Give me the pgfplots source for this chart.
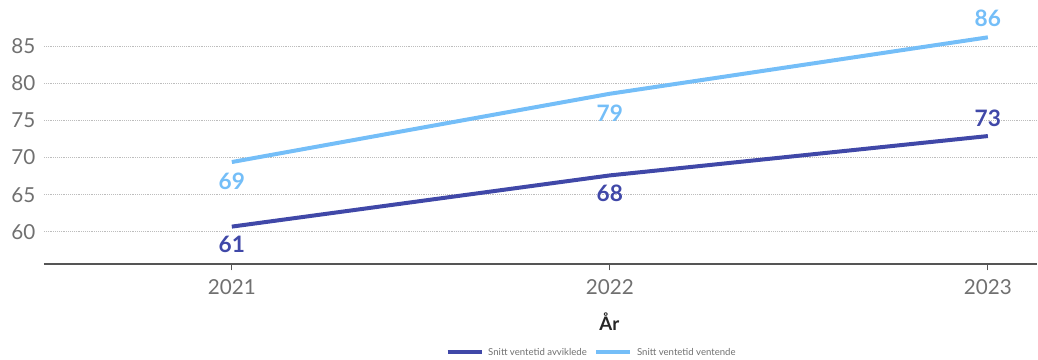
\documentclass[border=0pt]{standalone}
\usepackage{pgfplots}
\pgfplotsset{compat=1.18}
\usepackage{pgfplotstable}
\usepackage{fontspec}
\setmainfont{Lato}

\definecolor{avvikl}{HTML}{4048A8}
\definecolor{vent}{HTML}{74BEF8}
\definecolor{tickgray}{HTML}{707070}
\definecolor{gridgray}{HTML}{BDBDBD}
\definecolor{axisgray}{HTML}{555555}

% year, mean waiting time, label side (+1 above, -1 below)
\pgfplotstableread{
x    y     pos
2021 60.7  -1
2022 67.6  -1
2023 72.9   1
}\avviklede
\pgfplotstableread{
x    y     pos
2021 69.4  -1
2022 78.6  -1
2023 86.2   1
}\ventende

\begin{document}
\begin{tikzpicture}[x=0.75pt,y=0.75pt]
\begin{axis}[
  at={(0,0)}, anchor=south west,
  scale only axis,
  width=745.5pt, height=180pt,
  xmin=2020.503, xmax=2023.13,
  ymin=55.7, ymax=88,
  clip=false,
  axis y line*=left,
  axis x line*=bottom,
  y axis line style={draw=none},
  x axis line style={axisgray, line width=1.5pt, -},
  xtick={2021,2022,2023},
  xticklabels={2021,2022,2023},
  ytick={60,65,70,75,80,85},
  ymajorgrids=true,
  grid style={gridgray, densely dotted, line width=0.8pt},
  major tick length=5pt,
  tick align=outside,
  xtick style={axisgray, line width=0.8pt},
  ytick style={draw=none},
  tick label style={tickgray, font=\fontsize{15.5}{15.5}\selectfont},
  xticklabel style={yshift=-3pt},
  yticklabel style={xshift=2pt},
  /pgf/number format/assume math mode=true,
  /pgf/number format/1000 sep={},
  nodes near coords={\pgfmathprintnumber[fixed,precision=0]{\pgfplotspointmeta}},
  nodes near coords align=center,
  every node near coord/.append style={font=\fontsize{17}{17}\selectfont\bfseries, anchor=center},
]
\addplot[avvikl, line width=3pt, mark=none,
  visualization depends on={\thisrow{pos}\as\pos},
  every node near coord/.append style={avvikl, yshift={\pos*13.5pt}}]
  table[x=x, y=y] {\avviklede};
\addplot[vent, line width=3pt, mark=none,
  visualization depends on={\thisrow{pos}\as\pos},
  every node near coord/.append style={vent, yshift={\pos*14.5pt}}]
  table[x=x, y=y] {\ventende};
\end{axis}

% axis title and legend
\node[font=\fontsize{14}{14}\selectfont\bfseries, text=black!85] at (566,-58) {År};
\draw[avvikl, line width=3pt] (404,-88) -- (438,-88);
\node[anchor=west, font=\fontsize{7.2}{7.2}\selectfont, text=tickgray] at (440,-88) {Snitt ventetid avviklede};
\draw[vent, line width=3pt] (553,-88) -- (587,-88);
\node[anchor=west, font=\fontsize{7.2}{7.2}\selectfont, text=tickgray] at (589,-88) {Snitt ventetid ventende};

\useasboundingbox (-44,-91) rectangle (994,264);
\end{tikzpicture}
\end{document}
